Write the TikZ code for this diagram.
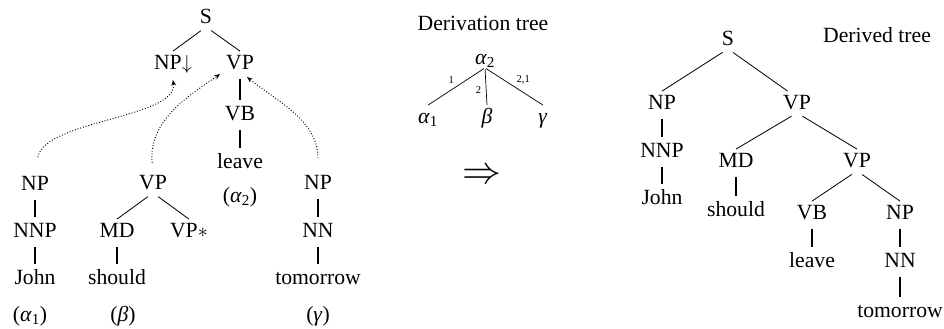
\documentclass[tikz,border=0pt]{standalone}
\usepackage{graphicx}
\usepackage{fontspec}
\setmainfont{Liberation Serif}
\usetikzlibrary{arrows.meta}

\begin{document}
\begin{tikzpicture}[x=0.03cm,y=-0.03cm,
  lab/.style={font=\fontsize{18.5}{22}\selectfont,text height=12.2pt,text depth=0pt,inner xsep=1pt,inner ysep=3pt},
  ttl/.style={font=\fontsize{18.5}{22}\selectfont,inner sep=1pt},
  num/.style={font=\fontsize{9}{10}\selectfont,inner sep=1pt},
  vbar/.style={line width=1.8pt,shorten <=5pt,shorten >=1.5pt},
  branch/.style={line width=0.7pt,shorten <=5.4pt},
  dbranch/.style={line width=0.6pt,shorten <=1pt},
  subst/.style={dash pattern=on 0.8pt off 1.6pt,line width=0.8pt,-{Stealth[length=5pt,width=4pt]}}]
  \useasboundingbox (0,0) rectangle (944,328);
  % elementary trees
  \node[lab] (s1) at (206,16) {S};
  \node[lab] (npd) at (173,62) {NP$\downarrow$};
  \node[lab] (vp1) at (240,62) {VP};
  \node[lab] (vb1) at (240,113) {VB};
  \node[lab] (lv1) at (240,161) {leave};
  \node[lab] (a2lab) at (240,195) {(\textit{α}\textsubscript{2})};
  \node[lab] (np1) at (35,183) {NP};
  \node[lab] (nnp1) at (35,230) {NNP};
  \node[lab] (jo1) at (35,277) {John};
  \node[lab] (a1lab) at (30,314) {(\textit{α}\textsubscript{1})};
  \node[lab] (vp2) at (153,182) {VP};
  \node[lab] (md1) at (117,230) {MD};
  \node[lab] (vps) at (189,230) {VP$*$};
  \node[lab] (sh1) at (117,277) {should};
  \node[lab] (blab) at (123,314) {(\textit{β})};
  \node[lab] (np3) at (318,182) {NP};
  \node[lab] (nn3) at (318,230) {NN};
  \node[lab] (tm1) at (318,277) {tomorrow};
  \node[lab] (glab) at (318,314) {(\textit{γ})};
  % derivation tree
  \node[ttl] (dtitle) at (483,23) {Derivation tree};
  \node[lab] (a2) at (485,57) {\textit{α}\textsubscript{2}};
  \node[lab] (da1) at (428,116) {\textit{α}\textsubscript{1}};
  \node[lab] (db) at (487,116) {\textit{β}};
  \node[lab] (dg) at (543,116) {\textit{γ}};
  \node[font=\fontsize{20}{22}\selectfont,inner sep=0pt] (impl) at (482,176) {\scalebox{1.6}{$\Rightarrow$}};
  % derived tree
  \node[ttl] (rtitle) at (877,35) {Derived tree};
  \node[lab] (s2) at (728,38) {S};
  \node[lab] (np4) at (662,102) {NP};
  \node[lab] (vp4) at (797,102) {VP};
  \node[lab] (nnp4) at (662,150) {NNP};
  \node[lab] (jo2) at (662,197) {John};
  \node[lab] (md2) at (736,160) {MD};
  \node[lab] (vp5) at (857,160) {VP};
  \node[lab] (sh2) at (736,209) {should};
  \node[lab] (vb2) at (812,212) {VB};
  \node[lab] (np5) at (900,212) {NP};
  \node[lab] (lv2) at (812,260) {leave};
  \node[lab] (nn5) at (900,260) {NN};
  \node[lab] (tm2) at (900,310) {tomorrow};
  \foreach \a/\b in {vp1/vb1,vb1/lv1,np1/nnp1,nnp1/jo1,md1/sh1,np3/nn3,nn3/tm1,np4/nnp4,nnp4/jo2,md2/sh2,vb2/lv2,np5/nn5,nn5/tm2}{\draw[vbar] (\a.south) -- (\b.north);}
  \foreach \a/\b in {s1/npd,s1/vp1,vp2/md1,vp2/vps,s2/np4,vp4/md2,vp4/vp5,vp5/vb2,vp5/np5}{\draw[branch] (\a.south) -- (\b.north);}
  \draw[branch] (s2.south) -- ([xshift=-8pt]vp4.north);
  \draw[dbranch] (a2.south) -- node[num,pos=0.5,above left=1pt] {1} (da1.north);
  \draw[dbranch] (a2.south) -- node[num,pos=0.6,left=3pt] {2} (db.north);
  \draw[dbranch] (a2.south) -- node[num,pos=0.5,above right=1pt] {2,1} (dg.north);
  % substitution and adjunction
  \draw[subst,shorten <=13pt] (np1.north) .. controls (45,120) and (178,118) .. ([yshift=-6pt]npd.south);
  \draw[subst,shorten <=7pt] (vp2.north) .. controls (148,120) and (190,95) .. ([xshift=-17pt,yshift=-1pt]vp1.south);
  \draw[subst,shorten <=11pt] (np3.north) .. controls (318,120) and (275,100) .. ([xshift=6pt,yshift=-3.5pt]vp1.south);
\end{tikzpicture}
\end{document}
